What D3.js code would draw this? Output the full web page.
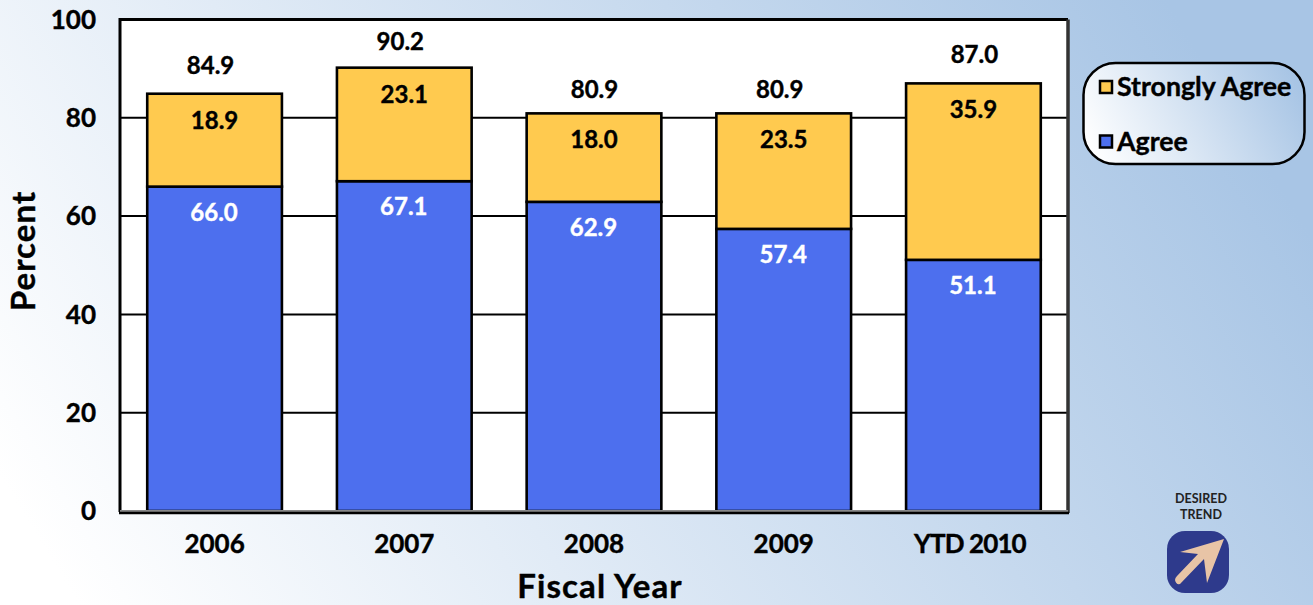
<!DOCTYPE html>
<html lang="en">
<head>
  <meta charset="UTF-8" />
  <title>Percent Agree by Fiscal Year</title>
  <style>
    html, body { margin: 0; padding: 0; overflow: hidden; }
    text { font-family: "Lato", "Open Sans", sans-serif; font-weight: 700; }
    .heavy { stroke: currentColor; stroke-width: 0.4px; }
  </style>
</head>
<body>
  <div id="chart"></div>
  <script src="https://cdn.jsdelivr.net/npm/d3@7"></script>
  <script>
  // values
  var years = ["2006", "2007", "2008", "2009", "YTD 2010"];
  var agree = [66.0, 67.1, 62.9, 57.4, 51.1];
  var stronglyAgree = [18.9, 23.1, 18.0, 23.5, 35.9];
  var totals = [84.9, 90.2, 80.9, 80.9, 87.0];
  var yTicks = [0, 20, 40, 60, 80, 100];
  var legendNames = ["Strongly Agree", "Agree"];

  // the total labels were placed by hand in the original, so nudge them
  var totalNudgeX = [-4, -4, 0.5, -4, 1];
  var totalNudgeY = [-1, 1, 4, 4, -1];

  var blue = "#4d6fee", gold = "#ffca4f";
  var width = 1313, height = 605;
  var margin = { top: 19.5, right: 245, bottom: 94, left: 120 };

  var svg = d3.select("#chart").append("svg")
    .attr("width", width)
    .attr("height", height)
    .style("display", "block");

  var defs = svg.append("defs");
  var bg = defs.append("linearGradient").attr("id", "bg")
    .attr("gradientUnits", "userSpaceOnUse")
    .attr("x1", 100).attr("y1", 640).attr("x2", 1160).attr("y2", -10);
  bg.append("stop").attr("offset", 0).attr("stop-color", "#ffffff");
  bg.append("stop").attr("offset", 1).attr("stop-color", "#a8c5e5");

  var legendBg = defs.append("linearGradient").attr("id", "legendBg")
    .attr("gradientUnits", "userSpaceOnUse")
    .attr("x1", 1100).attr("y1", 170).attr("x2", 1290).attr("y2", 70);
  legendBg.append("stop").attr("offset", 0).attr("stop-color", "#ffffff");
  legendBg.append("stop").attr("offset", 1).attr("stop-color", "#a8c5e5");

  svg.append("rect").attr("width", width).attr("height", height).attr("fill", "url(#bg)");

  var x = d3.scaleBand().domain(years)
    .range([margin.left, width - margin.right])
    .paddingInner(0.29).paddingOuter(0.1435);
  var y = d3.scaleLinear().domain([0, 100])
    .range([height - margin.bottom, margin.top]);

  // plot background
  svg.append("rect")
    .attr("x", margin.left).attr("y", y(100))
    .attr("width", width - margin.right - margin.left)
    .attr("height", y(0) - y(100))
    .attr("fill", "#fff");

  // gridlines
  svg.append("g").selectAll("line")
    .data(yTicks.slice(1, -1))
    .enter().append("line")
    .attr("x1", margin.left).attr("x2", width - margin.right)
    .attr("y1", function(d) { return y(d); })
    .attr("y2", function(d) { return y(d); })
    .attr("stroke", "#000").attr("stroke-width", 2);

  // bars
  svg.append("g").selectAll("rect")
    .data(agree)
    .enter().append("rect")
    .attr("x", function(d, i) { return x(years[i]); })
    .attr("y", function(d) { return y(d); })
    .attr("width", x.bandwidth())
    .attr("height", function(d) { return y(0) - y(d); })
    .attr("fill", blue).attr("stroke", "#000").attr("stroke-width", 2.6);

  svg.append("g").selectAll("rect")
    .data(stronglyAgree)
    .enter().append("rect")
    .attr("x", function(d, i) { return x(years[i]); })
    .attr("y", function(d, i) { return y(agree[i] + d); })
    .attr("width", x.bandwidth())
    .attr("height", function(d) { return y(0) - y(d); })
    .attr("fill", gold).attr("stroke", "#000").attr("stroke-width", 2.6);

  // plot frame, heavier on the top and left with a grey shadow right and bottom
  var frame = svg.append("g").attr("fill", "none");
  frame.append("path")
    .attr("d", d3.line()([[margin.left, y(0) + 1], [margin.left, y(100)], [width - margin.right, y(100)]]))
    .attr("stroke", "#000").attr("stroke-width", 3);
  frame.append("path")
    .attr("d", d3.line()([[width - margin.right, y(100)], [width - margin.right, y(0) + 2]]))
    .attr("stroke", "#333").attr("stroke-width", 3.5);
  frame.append("line")
    .attr("x1", margin.left).attr("x2", width - margin.right)
    .attr("y1", y(0)).attr("y2", y(0))
    .attr("stroke", "#888").attr("stroke-width", 2);
  frame.append("line")
    .attr("x1", margin.left - 1).attr("x2", width - margin.right + 1)
    .attr("y1", y(0) + 2).attr("y2", y(0) + 2)
    .attr("stroke", "#000").attr("stroke-width", 2.4);

  // value labels
  var mid = function(i) { return x(years[i]) + x.bandwidth() / 2; };

  svg.append("g").selectAll("text")
    .data(agree)
    .enter().append("text")
    .attr("class", "heavy")
    .attr("x", function(d, i) { return mid(i) - 0.5; })
    .attr("y", function(d) { return y(d) + 34; })
    .attr("text-anchor", "middle").attr("font-size", 24).attr("fill", "#fff").style("color", "#fff")
    .text(function(d) { return d.toFixed(1); });

  svg.append("g").selectAll("text")
    .data(stronglyAgree)
    .enter().append("text")
    .attr("class", "heavy")
    .attr("x", function(d, i) { return mid(i); })
    .attr("y", function(d, i) { return y(agree[i] + d) + 35; })
    .attr("text-anchor", "middle").attr("font-size", 24).attr("fill", "#000")
    .text(function(d) { return d.toFixed(1); });

  svg.append("g").selectAll("text")
    .data(totals)
    .enter().append("text")
    .attr("class", "heavy")
    .attr("x", function(d, i) { return mid(i) + totalNudgeX[i]; })
    .attr("y", function(d, i) { return y(d) - 19 + totalNudgeY[i]; })
    .attr("text-anchor", "middle").attr("font-size", 24).attr("fill", "#000")
    .text(function(d) { return d.toFixed(1); });

  // axes
  var yAxis = d3.axisLeft(y).tickValues(yTicks).tickSize(0).tickPadding(24);
  var yG = svg.append("g").attr("transform", "translate(" + margin.left + ",0.5)").call(yAxis);
  yG.select(".domain").remove();
  yG.selectAll("text").attr("class", "heavy").attr("font-size", 26).attr("fill", "#000");

  var xAxis = d3.axisBottom(x).tickSize(0).tickPadding(24);
  var xG = svg.append("g").attr("transform", "translate(0," + y(0) + ")").call(xAxis);
  xG.select(".domain").remove();
  xG.selectAll("text").attr("class", "heavy").attr("font-size", 26).attr("fill", "#000")
    .attr("dx", function(d) { return d.length > 4 ? -3.5 : 0; })
    .style("letter-spacing", function(d) { return d.length > 4 ? "-0.9px" : null; });

  svg.append("text")
    .attr("class", "heavy")
    .attr("transform", "translate(35,251) rotate(-90)")
    .attr("text-anchor", "middle").attr("font-size", 33).attr("fill", "#000")
    .style("letter-spacing", "1.1px")
    .text("Percent");

  svg.append("text")
    .attr("class", "heavy")
    .attr("x", 600).attr("y", 598)
    .attr("text-anchor", "middle").attr("font-size", 33).attr("fill", "#000")
    .style("letter-spacing", "1.1px")
    .text("Fiscal Year");

  // legend
  svg.append("rect")
    .attr("x", 1083.5).attr("y", 63).attr("width", 221).attr("height", 101).attr("rx", 32)
    .attr("fill", "url(#legendBg)").attr("stroke", "#000").attr("stroke-width", 2.5);

  var legend = svg.append("g").selectAll("g")
    .data(legendNames)
    .enter().append("g")
    .attr("transform", function(d, i) { return "translate(1100," + (81 + i * 54.5) + ")"; });
  legend.append("rect")
    .attr("width", 12).attr("height", 12)
    .attr("fill", function(d, i) { return i === 0 ? gold : blue; })
    .attr("stroke", "#000").attr("stroke-width", 2.5);
  legend.append("text")
    .attr("class", "heavy")
    .attr("x", 17).attr("y", 15)
    .attr("font-size", 26.7).attr("fill", "#000")
    .text(function(d) { return d; });

  // desired trend badge
  var badge = svg.append("g");
  badge.append("text").attr("x", 1201).attr("y", 503)
    .attr("text-anchor", "middle").attr("font-size", 12.5).attr("fill", "#222").text("DESIRED");
  badge.append("text").attr("x", 1201).attr("y", 519)
    .attr("text-anchor", "middle").attr("font-size", 12.5).attr("fill", "#222").text("TREND");
  badge.append("rect")
    .attr("x", 1167).attr("y", 531).attr("width", 62).attr("height", 62).attr("rx", 18)
    .attr("fill", "#2e3a8c");
  badge.append("path")
    .attr("d", "M1224,539 L1207,583 L1204,559 L1180,584 Q1176,585 1175,580 Q1175,578 1177,576 L1198,554 L1180,552 Z")
    .attr("fill", "#e8c4a6");
  </script>
</body>
</html>
